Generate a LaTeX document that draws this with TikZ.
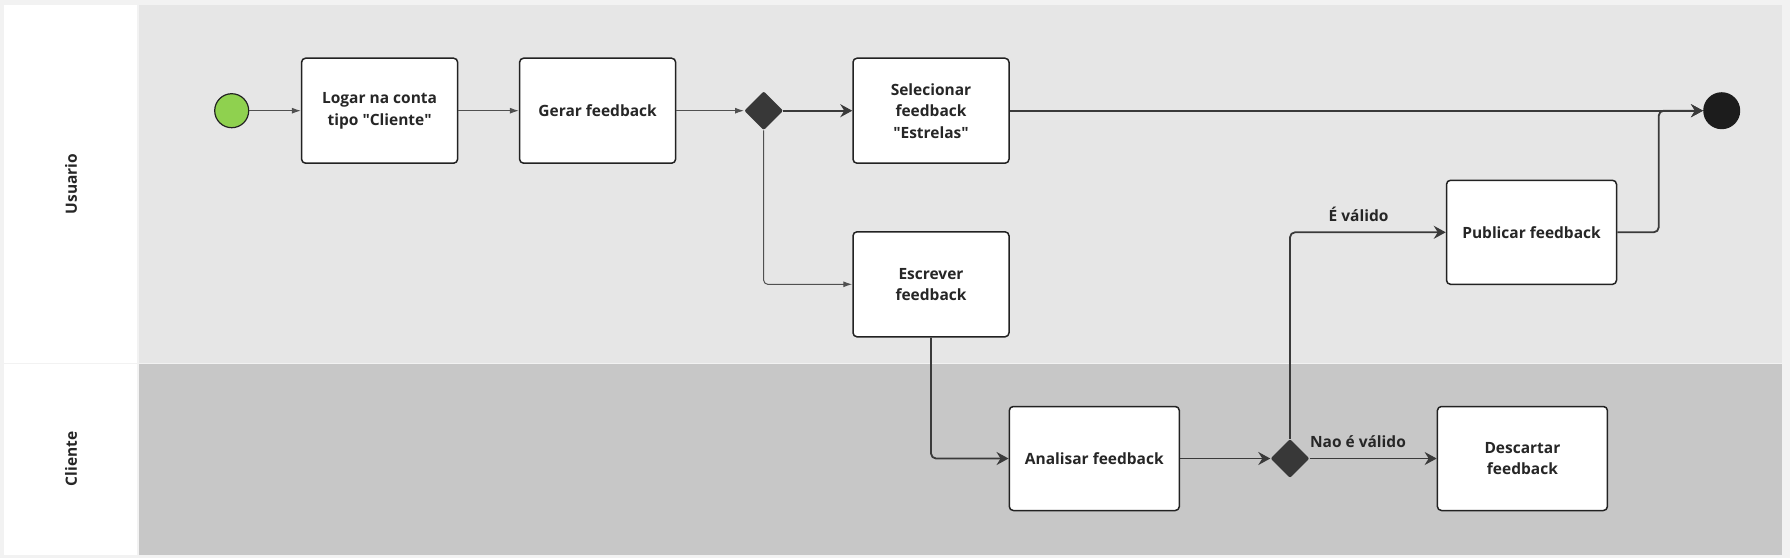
\documentclass[tikz,border=0pt]{standalone}
\usepackage{fontspec}
\setmainfont{Open Sans}[Ligatures=TeXOff]
\usetikzlibrary{arrows.meta,shapes.geometric}
\definecolor{moldura}{HTML}{F2F2F2}
\definecolor{raiaA}{HTML}{E6E6E6}
\definecolor{raiaB}{HTML}{C7C7C7}
\definecolor{borda}{HTML}{222222}
\definecolor{texto}{HTML}{262626}
\definecolor{linha}{HTML}{3A3A3A}
\definecolor{linhafina}{HTML}{505050}
\definecolor{losango}{HTML}{383838}
\definecolor{verde}{HTML}{8FD14F}
\definecolor{preto}{HTML}{1C1C1C}
\begin{document}
\begin{tikzpicture}[x=1pt, y=-1pt, font=\fontsize{15.5}{21.5}\selectfont\bfseries, text=texto, line join=round,
		tarefa/.style={draw=borda, line width=1.5pt, fill=white, rounded corners=4pt, minimum height=105pt, align=center, inner sep=0pt},
		porta/.style={diamond, fill=losango, minimum size=39pt, inner sep=0pt, rounded corners=2pt},
		fluxofino/.style={draw=linhafina, line width=1pt, rounded corners=4pt, -{Latex[length=9pt,width=6pt]}},
		fluxo/.style={draw=linha, line width=1.8pt, rounded corners=5pt, -{Stealth[length=12pt,width=13pt,inset=4pt]}}]
		\useasboundingbox (0,0) rectangle (1790,558);
		% raias
		\fill[moldura] (0,0) rectangle (1790,558);
		\fill[white] (4,4.6) rectangle (137,555);
		\fill[raiaA] (138.5,4.6) rectangle (1782,362.5);
		\fill[raiaB] (138.5,363.5) rectangle (1782,555);
		\draw[moldura, line width=1pt] (4,363) -- (137,363);
		\node[rotate=90] (usuario) at (71,184) {Usuario};
		\node[rotate=90] (cliente) at (71,459) {Cliente};
		% eventos e tarefas
		\node[circle, draw=borda, line width=1.2pt, fill=verde, minimum size=34pt, inner sep=0pt] (inicio) at (231.7,110.7) {};
		\node[tarefa, minimum width=156pt] (logar) at (379.6,110.7) {Logar na conta\\tipo "Cliente"};
		\node[tarefa, minimum width=156pt] (gerar) at (597.6,110.7) {Gerar feedback};
		\node[porta] (portaA) at (763.7,110.7) {};
		\node[tarefa, minimum width=156pt] (selecionar) at (931,110.7) {Selecionar\\feedback\\"Estrelas"};
		\node[tarefa, minimum width=156pt] (escrever) at (931,284.3) {Escrever\\feedback};
		\node[circle, fill=preto, minimum size=37pt, inner sep=0pt] (fim) at (1721.7,110.7) {};
		\node[tarefa, minimum width=170pt, minimum height=104pt] (publicar) at (1531.5,232.3) {Publicar feedback};
		\node[tarefa, minimum width=170pt, minimum height=104pt] (analisar) at (1094.3,458.5) {Analisar feedback};
		\node[porta] (portaB) at (1290,458.5) {};
		\node[tarefa, minimum width=170pt, minimum height=104pt] (descartar) at (1522.4,458.5) {Descartar\\feedback};
		\coordinate (juncao) at (1658.7,110.7);
		% fluxos
		\draw[fluxofino] (inicio) -- (logar);
		\draw[fluxofino] (logar) -- (gerar);
		\draw[fluxofino] (gerar) -- (portaA);
		\draw[fluxo] (portaA) -- (selecionar);
		\draw[fluxofino] (portaA) |- (escrever);
		\draw[fluxo] (selecionar) -- (fim);
		\draw[fluxo] (publicar) -| (juncao) -- (fim);
		\draw[fluxo] (escrever) |- (analisar);
		\draw[fluxo] (analisar) -- (portaB);
		\draw[fluxo] (portaB) |- node[pos=0.72, above=6pt]{É válido} (publicar);
		\draw[fluxo] (portaB) -- node[pos=0.38, above=7pt]{Nao é válido} (descartar);
	\end{tikzpicture}
\end{document}
